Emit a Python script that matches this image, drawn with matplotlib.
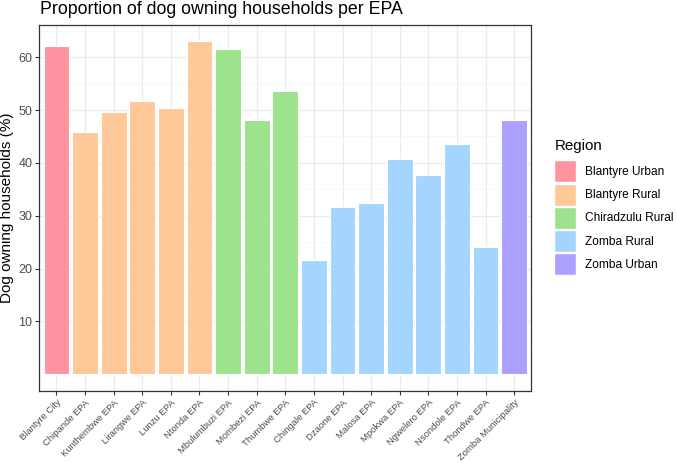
import matplotlib
matplotlib.use("Agg")
import matplotlib.pyplot as plt
from matplotlib.patches import Patch
import numpy as np

plt.rcParams['font.family'] = ['Liberation Sans', 'DejaVu Sans']

# data
epas = ["Blantyre City", "Chipande EPA", "Kunthembwe EPA", "Lirangwe EPA", "Lunzu EPA",
        "Ntonda EPA", "Mbulumbuzi EPA", "Mombezi EPA", "Thumbwe EPA", "Chingale EPA",
        "Dzaone EPA", "Malosa EPA", "Mpokwa EPA", "Ngwelero EPA", "Nsondole EPA",
        "Thondwe EPA", "Zomba Municipality"]
pct = [62.2, 45.8, 49.6, 51.7, 50.3, 63.0, 61.5, 48.1, 53.6, 21.7,
       31.7, 32.5, 40.7, 37.7, 43.6, 24.0, 48.1]
region = ["Blantyre Urban"] + ["Blantyre Rural"] * 5 + ["Chiradzulu Rural"] * 3 + \
         ["Zomba Rural"] * 7 + ["Zomba Urban"]
regions = ["Blantyre Urban", "Blantyre Rural", "Chiradzulu Rural", "Zomba Rural", "Zomba Urban"]
colours = {"Blantyre Urban": "#FF939F", "Blantyre Rural": "#FFC898", "Chiradzulu Rural": "#9DE28D",
           "Zomba Rural": "#A3D5FF", "Zomba Urban": "#AB9FFF"}

W, H = 676, 463
fig = plt.figure(figsize=(W / 100, H / 100), dpi=100)
ax = fig.add_axes([39.3 / W, (H - 391) / H, (531.3 - 39.3) / W, (391 - 24.7) / H])

x = np.arange(1, len(epas) + 1)
ax.bar(x, pct, width=0.9, color=[colours[r] for r in region], edgecolor="white",
       linewidth=0.8, zorder=3)

ymax = max(pct)
ax.set_ylim(-0.05 * ymax, ymax * 1.05)
ax.set_xlim(0.4, len(epas) + 0.6)
ax.set_yticks([10, 20, 30, 40, 50, 60])
ax.set_yticks([5, 15, 25, 35, 45, 55, 65], minor=True)
ax.set_xticks(x)
ax.set_xticklabels(epas, rotation=45, ha="right", va="top", rotation_mode="anchor",
                   fontsize=6.8, color="#4D4D4D")
ax.tick_params(axis="y", labelsize=9, labelcolor="#4D4D4D", color="#333333", length=3,
               width=0.8, pad=2)
ax.tick_params(axis="x", color="#333333", length=3, width=0.8, pad=2)
ax.tick_params(which="minor", length=0)

ax.grid(True, which="major", color="#EBEBEB", linewidth=0.9, zorder=0)
ax.grid(True, which="minor", axis="y", color="#F4F4F4", linewidth=0.5, zorder=0)
for s in ax.spines.values():
    s.set_color("#333333")
    s.set_linewidth(0.9)

fig.text(7.5 / W, 1 - 207.5 / H, "Dog owning households (%)", fontsize=11, rotation=90,
         ha="center", va="center")
fig.text(40 / W, 1 - 13.5 / H, "Proportion of dog owning households per EPA", fontsize=12.8,
         ha="left", va="baseline")

handles = [Patch(facecolor=colours[r], edgecolor="white", label=r) for r in regions]
leg = fig.legend(handles=handles, title="Region", loc="upper left",
                 bbox_to_anchor=(552 / W, 1 - 137 / H), frameon=False, fontsize=8.6,
                 title_fontsize=10.9, handlelength=1.85, handleheight=2.46,
                 labelspacing=0.1, handletextpad=0.75, borderaxespad=0, borderpad=0.2)
leg._legend_box.align = "left"
leg._legend_box.sep = 5

fig.savefig("out.png", dpi=100)
